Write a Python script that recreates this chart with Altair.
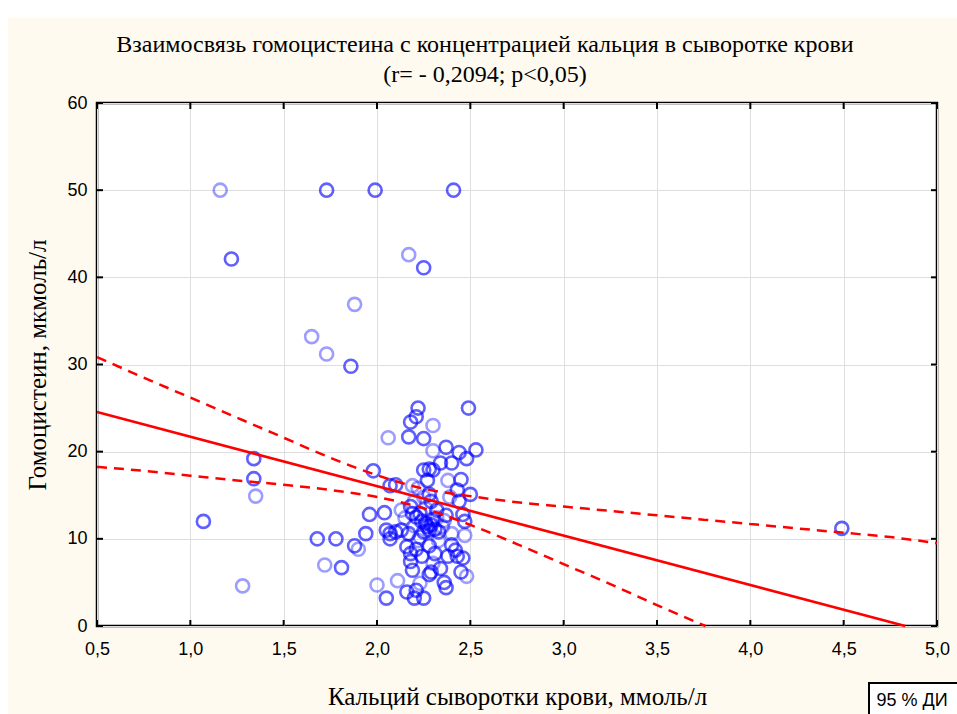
import altair as alt
import pandas as pd

# ---------------- data ----------------
ca = [1.16, 1.73, 1.99, 2.41, 1.22, 2.17, 2.25, 1.88, 1.65, 1.73, 1.86, 4.49, 1.07,
      1.34, 1.34, 1.35, 1.28, 1.68, 1.72, 1.78, 1.81, 1.88, 1.90, 1.94, 1.96,
      2.22, 2.49, 2.21, 2.18, 2.30, 2.06, 2.17, 2.25, 2.30, 2.37, 2.53, 2.44, 2.48,
      2.34, 2.40, 2.25, 2.28, 2.30, 1.98, 2.38, 2.45, 2.27, 2.07, 2.10, 2.19, 2.22,
      2.43, 2.50, 2.28, 2.39, 2.29, 2.44, 2.18, 2.04, 2.19, 2.23, 2.37, 2.46, 2.15,
      2.32, 2.47, 2.05, 2.10, 2.07, 2.17, 2.27, 2.28, 2.31, 2.33, 2.35, 2.40, 2.47,
      2.23, 2.07, 2.16, 2.21, 2.28, 2.40, 2.42, 2.43, 2.31, 2.38, 2.46, 2.18, 2.18,
      2.19, 2.30, 2.29, 2.28, 2.45, 2.48, 2.00, 2.11, 2.23, 2.36, 2.37, 2.16, 2.21,
      2.20, 2.25, 2.05,
      2.24, 2.26, 2.29, 2.30, 2.25, 2.20, 2.22, 2.33, 2.26, 2.13, 2.20, 2.32, 2.36,
      2.13, 2.24, 2.34, 2.25, 2.21]
hcy = [50.0, 50.0, 50.0, 50.0, 42.1, 42.6, 41.1, 36.9, 33.2, 31.2, 29.8, 11.2, 12.0,
       19.2, 16.9, 14.9, 4.6, 10.0, 7.0, 10.0, 6.7, 9.2, 8.8, 10.6, 12.8,
       25.0, 25.0, 24.0, 23.4, 23.0, 21.6, 21.7, 21.5, 20.1, 20.5, 20.2, 19.9, 19.2,
       18.7, 18.7, 17.9, 18.0, 17.9, 17.8, 16.7, 16.8, 16.7, 16.1, 16.2, 16.1, 15.8,
       15.6, 15.1, 15.1, 14.8, 14.3, 14.3, 13.7, 13.0, 12.9, 12.9, 12.7, 12.8, 12.4,
       12.4, 12.0, 11.0, 10.8, 10.6, 10.6, 11.4, 11.0, 11.1, 10.8, 11.4, 10.6, 10.4,
       10.2, 10.0, 9.1, 8.8, 9.2, 9.3, 8.7, 8.0, 8.3, 8.0, 7.8, 8.3, 7.4,
       6.4, 7.2, 6.2, 5.9, 6.2, 5.7, 4.7, 5.2, 4.9, 5.0, 4.4, 3.9, 4.1,
       3.2, 3.2, 3.2,
       12.0, 11.8, 11.6, 12.2, 10.8, 11.5, 9.8, 9.8, 13.5, 13.3, 14.3, 13.3, 12.1,
       11.0, 8.0, 6.6, 14.8, 12.5]
shade = ["l", "d", "d", "d", "d", "l", "d", "l", "l", "l", "d", "d", "d",
         "d", "d", "l", "l", "d", "l", "d", "d", "d", "l", "d", "d",
         "d", "d", "d", "d", "l", "l", "d", "d", "l", "d", "d", "d", "d",
         "d", "d", "d", "d", "d", "d", "l", "d", "d", "d", "d", "l", "l",
         "d", "d", "d", "l", "d", "d", "d", "d", "d", "d", "d", "d", "l",
         "l", "d", "d", "d", "d", "d", "d", "d", "d", "d", "l", "l", "l",
         "l", "d", "d", "d", "d", "d", "d", "d", "d", "d", "d", "d", "d",
         "d", "l", "d", "d", "d", "l", "l", "l", "l", "d", "d", "d", "d",
         "d", "d", "d",
         "d", "d", "d", "d", "d", "l", "l", "l", "l", "l", "l", "d", "l",
         "d", "d", "d", "l", "d"]

fit_x = [0.5, 4.83]
fit_y = [24.55, 0.0]

ci_up_x = [0.5, 0.75, 1.0, 1.25, 1.5, 1.75, 2.0, 2.25, 2.5, 2.75, 3.0, 3.25, 3.5,
           3.75, 4.0, 4.25, 4.5, 4.75, 5.0]
ci_up_y = [30.85, 28.5, 26.2, 23.9, 21.6, 19.3, 17.3, 15.75, 14.9, 14.2, 13.7, 13.2,
           12.7, 12.2, 11.7, 11.2, 10.7, 10.2, 9.5]
ci_lo_x = [0.5, 0.75, 1.0, 1.25, 1.5, 1.75, 2.0, 2.25, 2.5, 2.75, 3.0, 3.25, 3.5, 3.76]
ci_lo_y = [18.25, 17.8, 17.25, 16.7, 16.2, 15.6, 14.8, 13.5, 11.6, 9.4, 7.1, 4.8, 2.4, 0.0]

x_ticks = [0.5, 1.0, 1.5, 2.0, 2.5, 3.0, 3.5, 4.0, 4.5, 5.0]
y_ticks = [0, 10, 20, 30, 40, 50, 60]

title_line1 = "Взаимосвязь гомоцистеина с концентрацией кальция в сыворотке крови"
title_line2 = "(r= - 0,2094; p<0,05)"
x_title = "Кальций сыворотки крови, ммоль/л"
y_title = "Гомоцистеин, мкмоль/л"
legend_text = "95 % ДИ"

# ---------------- chart ----------------
W, H = 840, 523
SERIF = "Liberation Serif"
SANS = "Liberation Sans"

df_pts = pd.DataFrame({"ca": ca, "hcy": hcy, "shade": shade})
df_fit = pd.DataFrame({"x": fit_x, "y": fit_y})
df_up = pd.DataFrame({"x": ci_up_x, "y": ci_up_y})
df_lo = pd.DataFrame({"x": ci_lo_x, "y": ci_lo_y})
df_xt = pd.DataFrame({"v": x_ticks})
df_yt = pd.DataFrame({"v": y_ticks})
one = pd.DataFrame({"t": [legend_text]})
t1 = pd.DataFrame({"t": [title_line1]})
t2 = pd.DataFrame({"t": [title_line2]})

xs = alt.Scale(domain=[0.5, 5.0], nice=False, zero=False)
ys = alt.Scale(domain=[0, 60], nice=False, zero=False)

x_axis = alt.Axis(values=x_ticks, labelExpr="replace(format(datum.value, '.1f'), '.', ',')",
                  title=x_title, titleFont=SERIF, titleFontSize=25, titleFontWeight="normal",
                  titleColor="black", titlePadding=26,
                  labelFont=SANS, labelFontSize=18, labelColor="black", labelPadding=14,
                  ticks=False, domain=False, grid=True, gridColor="#dedede", gridWidth=1,
                  labelFlush=False)
y_axis = alt.Axis(values=y_ticks, format="d",
                  title=y_title, titleFont=SERIF, titleFontSize=25, titleFontWeight="normal",
                  titleColor="black", titlePadding=16,
                  labelFont=SANS, labelFontSize=18, labelColor="black", labelPadding=10,
                  ticks=False, domain=False, grid=True, gridColor="#dedede", gridWidth=1,
                  labelFlush=False)


def X(field):
    return alt.X(field, scale=xs, axis=x_axis, title=x_title)


def Y(field):
    return alt.Y(field, scale=ys, axis=y_axis, title=y_title)


pts = alt.Chart(df_pts).mark_point(shape="circle", filled=False, size=170,
                                   strokeWidth=2.6, color="#0000ff").encode(
    x=X("ca:Q"), y=Y("hcy:Q"),
    opacity=alt.Opacity("shade:N", scale=alt.Scale(domain=["d", "l"], range=[0.62, 0.38]),
                        legend=None),
)

fit = alt.Chart(df_fit).mark_line(color="#ff0000", strokeWidth=2.6).encode(
    x=X("x:Q"), y=Y("y:Q"))
up = alt.Chart(df_up).mark_line(color="#ff0000", strokeWidth=2.5, strokeDash=[10, 7],
                                interpolate="monotone").encode(x=X("x:Q"), y=Y("y:Q"))
lo = alt.Chart(df_lo).mark_line(color="#ff0000", strokeWidth=2.5, strokeDash=[10, 7],
                                interpolate="monotone").encode(x=X("x:Q"), y=Y("y:Q"))

tick_b = alt.Chart(df_xt).mark_rule(color="black", strokeWidth=2).encode(
    x=X("v:Q"), y=alt.value(H), y2=alt.value(H - 6))
tick_t = alt.Chart(df_xt).mark_rule(color="black", strokeWidth=2).encode(
    x=X("v:Q"), y=alt.value(0), y2=alt.value(6))
tick_l = alt.Chart(df_yt).mark_rule(color="black", strokeWidth=2).encode(
    y=Y("v:Q"), x=alt.value(0), x2=alt.value(6))
tick_r = alt.Chart(df_yt).mark_rule(color="black", strokeWidth=2).encode(
    y=Y("v:Q"), x=alt.value(W), x2=alt.value(W - 6))

# white page margins around the cream background
white_top = alt.Chart(one).mark_rect(color="white").encode(
    x=alt.value(-97), x2=alt.value(W + 20), y=alt.value(-103), y2=alt.value(-85))
white_left = alt.Chart(one).mark_rect(color="white").encode(
    x=alt.value(-97), x2=alt.value(-89), y=alt.value(-103), y2=alt.value(H + 88))

title1 = alt.Chart(t1).mark_text(font=SERIF, fontSize=24, color="black",
                                 align="center", baseline="alphabetic").encode(
    x=alt.value(388), y=alt.value(-51), text="t:N")
title2 = alt.Chart(t2).mark_text(font=SERIF, fontSize=24, color="black",
                                 align="center", baseline="alphabetic").encode(
    x=alt.value(388), y=alt.value(-21), text="t:N")

leg_box = alt.Chart(one).mark_rect(fill="white", stroke="black", strokeWidth=2).encode(
    x=alt.value(772), x2=alt.value(862), y=alt.value(580), y2=alt.value(614))
leg_txt = alt.Chart(one).mark_text(font=SANS, fontSize=18, color="black",
                                   align="center", baseline="middle").encode(
    x=alt.value(815), y=alt.value(598), text="t:N")

chart = alt.layer(
    white_top, white_left, pts, tick_b, tick_t, tick_l, tick_r, up, lo, fit,
    leg_box, leg_txt, title1, title2
).properties(
    width=W, height=H,
    autosize=alt.AutoSizeParams(type="none"),
    padding={"left": 97, "top": 103, "right": 20, "bottom": 88},
).configure(background="#fffaf0").configure_view(
    fill="white", stroke="black", strokeWidth=2.5)

chart.save("out.html", embed_options={"renderer": "svg", "actions": False})
